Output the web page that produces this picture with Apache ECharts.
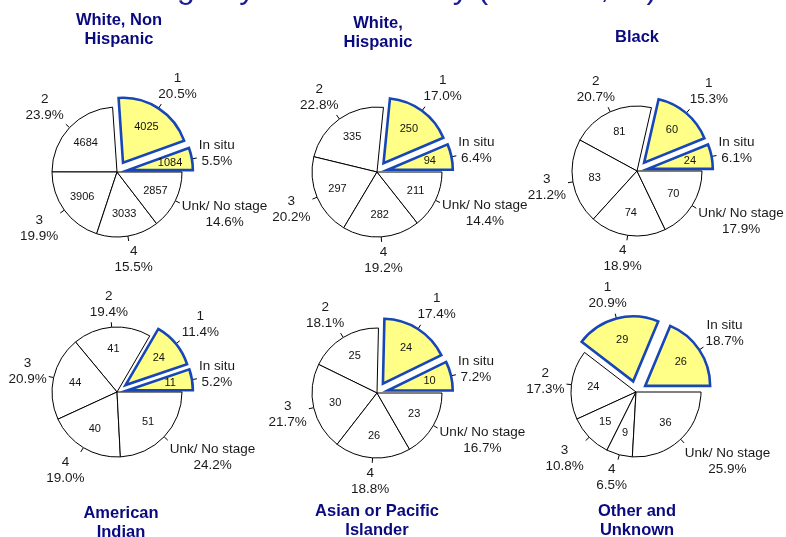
<!DOCTYPE html>
<html>
<head>
<meta charset="utf-8">
<script src="https://cdn.jsdelivr.net/npm/echarts@6/dist/echarts.min.js"></script>
<style>
  html, body { margin: 0; padding: 0; background: #fff; }
  #chart { width: 786px; height: 537px; }
</style>
</head>
<body>
<div id="chart"></div>
<script>
// stages, counter-clockwise from 3 o'clock
const stages = ['In situ', '1', '2', '3', '4', 'Unk/ No stage']
const groups = ['White, Non\nHispanic', 'White,\nHispanic', 'Black', 'American\nIndian', 'Asian or Pacific\nIslander', 'Other and\nUnknown']

const whiteNonHisp = [1084, 4025, 4684, 3906, 3033, 2857]
const whiteHisp = [94, 250, 335, 297, 282, 211]
const black = [24, 60, 81, 83, 74, 70]
const amIndian = [11, 24, 41, 44, 40, 51]
const asianPI = [10, 24, 25, 30, 26, 23]
const otherUnk = [26, 29, 24, 15, 9, 36]

const whiteNonHispPct = ['5.5%', '20.5%', '23.9%', '19.9%', '15.5%', '14.6%']
const whiteHispPct = ['6.4%', '17.0%', '22.8%', '20.2%', '19.2%', '14.4%']
const blackPct = ['6.1%', '15.3%', '20.7%', '21.2%', '18.9%', '17.9%']
const amIndianPct = ['5.2%', '11.4%', '19.4%', '20.9%', '19.0%', '24.2%']
const asianPIPct = ['7.2%', '17.4%', '18.1%', '21.7%', '18.8%', '16.7%']
const otherUnkPct = ['18.7%', '20.9%', '17.3%', '10.8%', '6.5%', '25.9%']

// in situ and stage 1 are pulled out
const exploded = [true, true, false, false, false, false]

const values = [whiteNonHisp, whiteHisp, black, amIndian, asianPI, otherUnk]
const pcts = [whiteNonHispPct, whiteHispPct, blackPct, amIndianPct, asianPIPct, otherUnkPct]

const R = 65
const OFFSET = 11
const TICK = 5
const GAP = 2
const centers = [[117, 172], [377, 172], [637, 171], [117, 392], [377, 393], [636, 392]]
const titlePos = [[119, 11], [378, 14], [637, 28], [121, 504], [377, 502], [637, 502]]

const YELLOW = {color: '#FFFF88', borderColor: '#1646B8', borderWidth: 2.6, borderJoin: 'miter'}
const WHITE = {color: '#FFFFFF', borderColor: '#000000', borderWidth: 1, borderJoin: 'miter'}
const CLEAR = {color: 'rgba(0,0,0,0)', borderWidth: 0}

function clamp(v) {
  return Math.max(-1, Math.min(1, v))
}

// mid angle of slice i (radians, ccw from 3 o'clock)
function midAngle(vals, i) {
  const total = vals.reduce((a, b) => a + b, 0)
  let start = 0
  for (let k = 0; k < i; k++) start += vals[k]
  return (start + vals[i] / 2) / total * Math.PI * 2
}

function insideLayout(vals, c) {
  return function (p) {
    const i = p.dataIndex
    const a = midAngle(vals, i)
    const rr = R * 0.66 + (exploded[i] ? OFFSET : 0)
    return {
      x: c[0] + rr * Math.cos(a),
      y: c[1] - rr * Math.sin(a),
      align: 'center',
      verticalAlign: 'middle',
    }
  }
}

function outsideLayout(vals, c) {
  return function (p) {
    const i = p.dataIndex
    const a = midAngle(vals, i)
    const dx = Math.cos(a)
    const dy = -Math.sin(a)
    const rr = R + (exploded[i] ? OFFSET : 0)
    const px = c[0] + rr * dx
    const py = c[1] + rr * dy
    const tx = px + TICK * dx
    const ty = py + TICK * dy
    const w = p.labelRect.width / 2
    const h = p.labelRect.height / 2
    return {
      x: tx + clamp(dx * 1.41) * (w + GAP),
      y: ty + clamp(dy * 1.41) * (h + GAP),
      align: 'center',
      verticalAlign: 'middle',
      labelLinePoints: [[px, py], [tx, ty], [tx, ty]],
    }
  }
}

const series = []
values.forEach(function (vals, g) {
  const c = centers[g]
  const base = {
    type: 'pie',
    center: c,
    radius: R,
    startAngle: 0,
    clockwise: false,
    avoidLabelOverlap: false,
    animation: false,
    emphasis: {disabled: true},
  }
  // visible slices
  series.push(Object.assign({}, base, {
    selectedMode: 'multiple',
    selectedOffset: OFFSET,
    label: {show: false},
    labelLine: {show: false},
    data: vals.map(function (v, i) {
      const st = exploded[i] ? YELLOW : WHITE
      return {
        name: stages[i],
        value: v,
        selected: exploded[i],
        itemStyle: st,
        select: {itemStyle: st},
      }
    }),
  }))
  // counts inside the slices
  series.push(Object.assign({}, base, {
    silent: true,
    itemStyle: CLEAR,
    label: {
      show: true,
      position: 'inside',
      formatter: '{c}',
      fontFamily: 'Liberation Sans, Arial, sans-serif',
      fontSize: 11,
      color: '#111',
    },
    labelLine: {show: false},
    labelLayout: insideLayout(vals, c),
    data: vals.map(function (v, i) {
      return {name: stages[i], value: v}
    }),
  }))
  // stage name and percent outside
  series.push(Object.assign({}, base, {
    silent: true,
    itemStyle: CLEAR,
    label: {
      show: true,
      position: 'outside',
      formatter: function (p) {
        return stages[p.dataIndex] + '\n' + pcts[g][p.dataIndex]
      },
      fontFamily: 'Liberation Sans, Arial, sans-serif',
      fontSize: 13.5,
      lineHeight: 16,
      color: '#1a1a1a',
    },
    labelLine: {
      show: true,
      length: TICK,
      length2: 0,
      lineStyle: {color: '#000', width: 1},
    },
    labelLayout: outsideLayout(vals, c),
    data: vals.map(function (v, i) {
      return {name: stages[i], value: v}
    }),
  }))
})

const titles = [{
  text: 'Stage by Race/Ethnicity (Number, %)',
  left: 393,
  top: -27,
  textAlign: 'center',
  padding: 0,
  textStyle: {
    fontFamily: 'Liberation Sans, Arial, sans-serif',
    fontSize: 32,
    fontWeight: 'normal',
    color: '#1a1a96',
  },
}]
groups.forEach(function (name, g) {
  titles.push({
    text: name,
    left: titlePos[g][0],
    top: titlePos[g][1],
    textAlign: 'center',
    padding: 0,
    textStyle: {
      fontFamily: 'Liberation Sans, Arial, sans-serif',
      fontSize: 16.5,
      lineHeight: 19,
      fontWeight: 'bold',
      color: '#0a0a80',
    },
  })
})

const chart = echarts.init(document.getElementById('chart'))
chart.setOption({
  backgroundColor: '#fff',
  animation: false,
  title: titles,
  series: series,
})
</script>
</body>
</html>
